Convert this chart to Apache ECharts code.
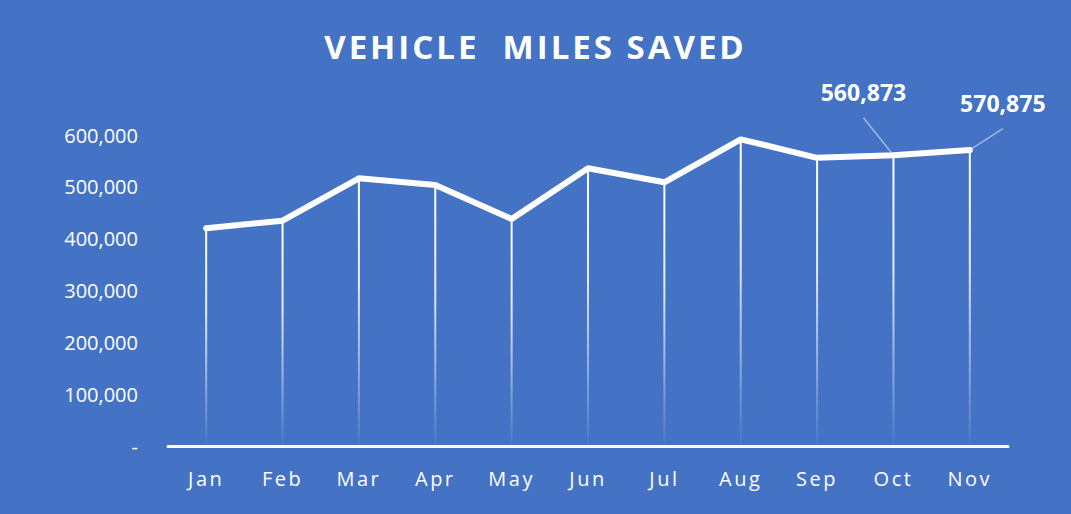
<!DOCTYPE html>
<html>
<head>
<meta charset="utf-8">
<script src="https://cdn.jsdelivr.net/npm/echarts@6/dist/echarts.min.js"></script>
<style>
  html, body { margin: 0; padding: 0; background: #4472C4; }
  #chart { width: 1071px; height: 514px; }
  /* spaced-out lettering for the title and month names */
  #chart text[fill="#fefefe"] { letter-spacing: 3px; }
  #chart text[fill="#fdfdfd"] { letter-spacing: 2.5px; }
</style>
</head>
<body>
<div id="chart"></div>
<script>
// data
var months = ['Jan', 'Feb', 'Mar', 'Apr', 'May', 'Jun', 'Jul', 'Aug', 'Sep', 'Oct', 'Nov'];
var milesSaved = [420000, 434700, 516500, 503600, 438000, 535800, 508800, 591700, 556000, 560873, 570875];
var labelled = [9, 10]; // only Oct and Nov carry a value label

var font = '"Open Sans", "Noto Sans", sans-serif';

function fmt(v) {
  if (v === 0) return '-';
  return v.toLocaleString('en-US');
}

var lineData = milesSaved.map(function (v, i) {
  if (labelled.indexOf(i) < 0) return v;
  return { value: v, label: { show: true } };
});

var chart = echarts.init(document.getElementById('chart'), null, { renderer: 'svg' });
chart.setOption({
  backgroundColor: '#4472C4',
  animation: false,
  title: {
    text: 'VEHICLE  MILES SAVED',
    left: 'center',
    top: 25,
    textStyle: { color: '#fefefe', fontFamily: font, fontWeight: 'bold', fontSize: 33 }
  },
  grid: { left: 168, right: 63, top: 135, bottom: 68 },
  xAxis: {
    type: 'category',
    data: months,
    boundaryGap: true,
    axisLine: { lineStyle: { color: '#fff', width: 3 } },
    axisTick: { show: false },
    axisLabel: { color: '#fdfdfd', fontFamily: font, fontSize: 20, margin: 22 }
  },
  yAxis: {
    type: 'value',
    min: 0,
    max: 600000,
    interval: 100000,
    axisLine: { show: false },
    axisTick: { show: false },
    splitLine: { show: false },
    axisLabel: { color: '#fff', fontFamily: font, fontSize: 20, margin: 30, formatter: fmt }
  },
  series: [
    {
      // drop lines, fading out toward the axis
      type: 'bar',
      data: milesSaved,
      barWidth: 2,
      z: 1,
      itemStyle: {
        color: new echarts.graphic.LinearGradient(0, 0, 0, 1, [
          { offset: 0, color: 'rgba(255,255,255,1)' },
          { offset: 0.4, color: 'rgba(255,255,255,0.85)' },
          { offset: 1, color: 'rgba(255,255,255,0.03)' }
        ])
      }
    },
    {
      type: 'line',
      data: lineData,
      z: 3,
      symbol: 'circle',
      symbolSize: 5,
      itemStyle: { color: '#fff' },
      lineStyle: { color: '#fff', width: 6, cap: 'round' },
      label: {
        show: false,
        position: 'top',
        // empty second line leaves a gap between the number and its leader line
        formatter: function (p) { return '{v|' + fmt(p.value) + '}\n{g|}'; },
        rich: {
          v: { color: '#fff', fontFamily: font, fontWeight: 'bold', fontSize: 23, lineHeight: 30 },
          g: { height: 10, lineHeight: 10 }
        }
      },
      labelLine: {
        show: true,
        lineStyle: { color: 'rgba(220,230,245,0.6)', width: 1.5 }
      },
      labelLayout: function (p) {
        if (p.dataIndex === 9) return { dx: -30, dy: -31 };
        if (p.dataIndex === 10) return { dx: 33, dy: -15 };
        return {};
      }
    }
  ]
});
</script>
</body>
</html>
